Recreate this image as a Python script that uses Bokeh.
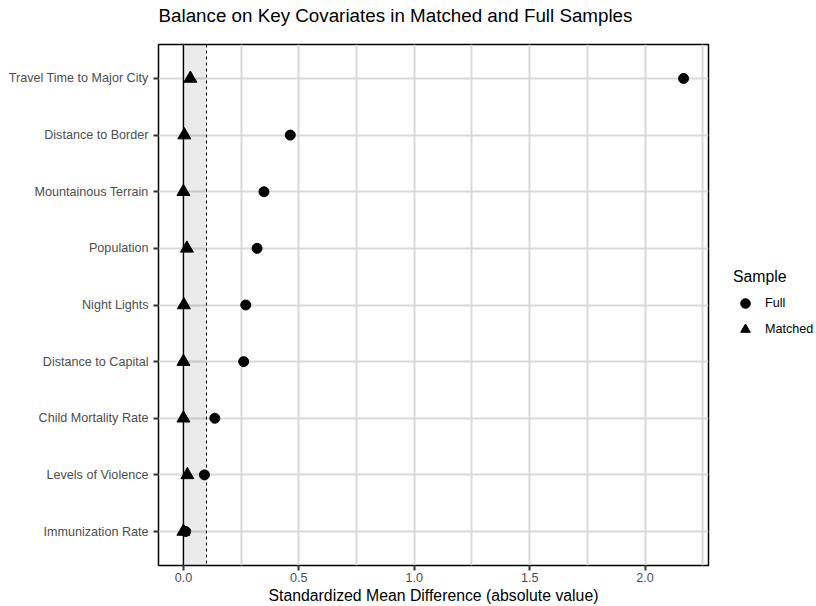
from bokeh.plotting import figure
from bokeh.layouts import row, column
from bokeh.models import (FactorRange, Range1d, Legend, LegendItem, Span, BoxAnnotation,
                          FixedTicker, PrintfTickFormatter, ColumnDataSource, Label)
from bokeh.embed import file_html
from bokeh.resources import INLINE

covariates = ["Travel Time to Major City", "Distance to Border", "Mountainous Terrain",
              "Population", "Night Lights", "Distance to Capital",
              "Child Mortality Rate", "Levels of Violence", "Immunization Rate"]
smd_full = [2.167, 0.463, 0.349, 0.319, 0.270, 0.261, 0.136, 0.091, 0.010]
smd_matched = [0.030, 0.004, 0.000, 0.015, 0.002, 0.000, 0.000, 0.017, 0.000]
x_ticks = [0.0, 0.5, 1.0, 1.5, 2.0]
x_minor = [0.25, 0.75, 1.25, 1.75, 2.25]
threshold = 0.1
title_text = "Balance on Key Covariates in Matched and Full Samples"
sample_labels = ["Full", "Matched"]

FONT = "Liberation Sans"
GRID = "#D9D9D9"
NAN = float("nan")

# ---------- title strip ----------
t = figure(width=816, height=30, x_range=Range1d(0, 1), y_range=Range1d(0, 1),
           x_axis_type=None, y_axis_type=None, output_backend="svg",
           toolbar_location=None, min_border=0, title=None)
t.outline_line_color = None
t.grid.visible = False
t.add_layout(Label(x=158, y=15, x_units="screen", y_units="screen", text=title_text,
                   text_font=FONT, text_font_size="18.8px", text_color="black",
                   text_baseline="middle", text_align="left"))

# ---------- main panel ----------
factors = covariates[::-1]
p = figure(width=710, height=576, title=None,
           y_range=FactorRange(factors=factors, range_padding=0.1, range_padding_units="absolute"),
           x_range=Range1d(-0.108, 2.275),
           output_backend="svg", toolbar_location=None,
           min_border_left=158, min_border_right=2, min_border_top=14, min_border_bottom=41)

p.outline_line_color = "black"
p.outline_line_width = 1.5
p.outline_line_alpha = 1

p.xaxis.ticker = FixedTicker(ticks=x_ticks, minor_ticks=x_minor)
p.xgrid.ticker = FixedTicker(ticks=x_ticks, minor_ticks=x_minor)
p.xgrid.grid_line_color = GRID
p.xgrid.grid_line_width = 2
p.xgrid.minor_grid_line_color = GRID
p.xgrid.minor_grid_line_width = 2
p.ygrid.grid_line_color = GRID
p.ygrid.grid_line_width = 2

for ax in (p.xaxis, p.yaxis):
    ax.axis_line_color = None
    ax.major_tick_in = 0
    ax.major_tick_out = 5
    ax.major_tick_line_width = 2
    ax.major_tick_line_color = "#333333"
    ax.minor_tick_line_color = None
    ax.major_label_text_font = FONT
    ax.major_label_text_font_size = "12.6px"
    ax.major_label_text_color = "#4D4D4D"
p.yaxis.major_label_standoff = 5
p.xaxis.major_label_standoff = 2
p.xaxis.formatter = PrintfTickFormatter(format="%.1f")
p.xaxis.axis_label = "Standardized Mean Difference (absolute value)"
p.xaxis.axis_label_text_font = FONT
p.xaxis.axis_label_text_font_size = "15.8px"
p.xaxis.axis_label_text_font_style = "normal"
p.xaxis.axis_label_text_color = "black"
p.xaxis.axis_label_standoff = 2

p.add_layout(BoxAnnotation(left=0, right=threshold, fill_color="black", fill_alpha=0.08,
                           line_color=None, level="underlay"))
p.add_layout(Span(location=0, dimension="height", line_color="black", line_width=1.3,
                  level="underlay"))
p.add_layout(Span(location=threshold, dimension="height", line_color="black", line_width=1,
                  line_dash="3 3", level="underlay"))

src = ColumnDataSource(dict(cov=covariates, full=smd_full, matched=smd_matched))
p.scatter(x="matched", y="cov", source=src, marker="triangle", size=13,
          fill_color="black", line_color="black")
p.scatter(x="full", y="cov", source=src, marker="circle", size=10,
          fill_color="black", line_color="black")

# ---------- legend strip ----------
lg = figure(width=106, height=576, x_range=Range1d(0, 1), y_range=Range1d(0, 1),
            x_axis_type=None, y_axis_type=None, output_backend="svg",
            toolbar_location=None, min_border=0, title=None)
lg.outline_line_color = None
lg.grid.visible = False
lf = lg.scatter(x=[NAN], y=[NAN], marker="circle", size=10,
                fill_color="black", line_color="black")
lm = lg.scatter(x=[NAN], y=[NAN], marker="triangle", size=13,
                fill_color="black", line_color="black")
legend = Legend(items=[LegendItem(label=sample_labels[0], renderers=[lf]),
                       LegendItem(label=sample_labels[1], renderers=[lm])],
                title="Sample", location=(23, 223))
legend.title_text_font = FONT
legend.title_text_font_size = "15.8px"
legend.title_text_font_style = "normal"
legend.title_text_color = "black"
legend.title_standoff = 4
legend.label_text_font = FONT
legend.label_text_font_size = "12.6px"
legend.label_text_color = "black"
legend.glyph_width = 24
legend.glyph_height = 26
legend.label_standoff = 8
legend.spacing = 0
legend.padding = 0
legend.margin = 0
legend.border_line_color = None
legend.background_fill_alpha = 0
lg.add_layout(legend)

layout = column(t, row(p, lg))
open("out.html", "w").write(file_html(layout, INLINE))
